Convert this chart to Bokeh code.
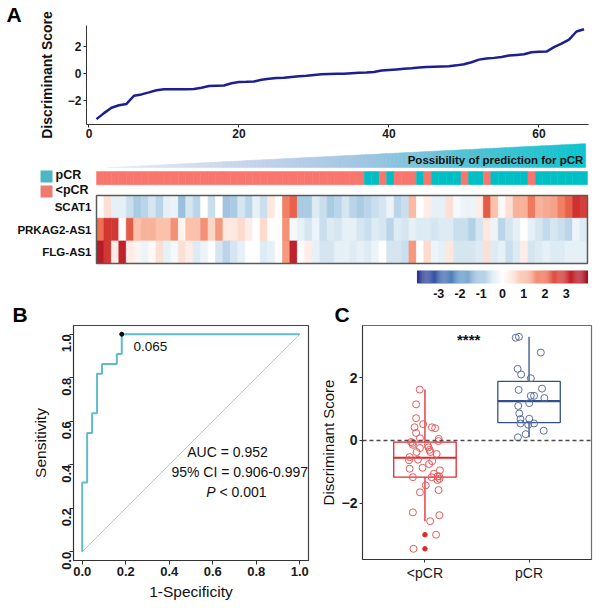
import numpy as np
from bokeh.plotting import figure
from bokeh.layouts import column, row
from bokeh.models import (Range1d, ColumnDataSource, LinearColorMapper, FixedTicker,
                          PrintfTickFormatter, Span)
from bokeh.core.properties import value
from bokeh.transform import transform
from bokeh.embed import file_html
from bokeh.resources import INLINE

FONT = "Liberation Sans"

# ---------------- data ----------------
# Panel A: sorted discriminant score per patient
sample_idx = list(range(1, 67))
disc_score = [-3.40, -2.95, -2.55, -2.36, -2.26, -1.65, -1.55, -1.40, -1.24, -1.17,
              -1.17, -1.17, -1.17, -1.15, -1.05, -0.92, -0.90, -0.88, -0.72, -0.63,
              -0.61, -0.58, -0.45, -0.38, -0.33, -0.30, -0.25, -0.20, -0.16, -0.10,
              -0.05, -0.03, -0.01, 0.00, 0.03, 0.06, 0.09, 0.13, 0.24, 0.28,
              0.32, 0.36, 0.40, 0.46, 0.50, 0.52, 0.54, 0.56, 0.62, 0.70,
              0.85, 1.05, 1.13, 1.18, 1.24, 1.35, 1.40, 1.45, 1.60, 1.63,
              1.65, 1.98, 2.25, 2.55, 3.15, 3.32]

# response group per patient (runs along the sorted order)
group_runs = [("<pCR", 36), ("pCR", 2), ("<pCR", 1), ("pCR", 1), ("<pCR", 3), ("pCR", 1),
              ("<pCR", 1), ("pCR", 4), ("<pCR", 1), ("pCR", 2), ("<pCR", 1), ("pCR", 5),
              ("<pCR", 1), ("pCR", 7)]

genes = ["SCAT1", "PRKAG2-AS1", "FLG-AS1"]
expr_scat1 = [0.0, 0.5, -0.3, -0.3, -0.6, -1.0, -0.8, -0.5, -0.8, -0.3,
              -0.2, -1.2, -0.5, -0.8, 0.0, -0.6, 0.0, -1.1, -1.0, -0.5,
              -0.8, -0.3, -0.6, 0.4, 0.0, 1.8, 2.2, -1.0, -1.0, -0.4,
              -0.6, -1.0, -0.8, -0.5, -0.8, -1.0, -0.8, -0.6, -0.5, -0.2,
              -0.8, -0.6, 1.1, 0.0, 0.3, -0.3, -0.3, 0.5, -0.1, -0.2,
              -0.2, 0.3, 2.3, 1.0, 0.1, 0.5, 1.2, 1.2, 1.9, 1.2,
              1.3, 1.4, 1.8, 2.2, 2.9, 2.7]
expr_prkag2 = [2.0, 2.8, 2.8, 0.0, 2.3, 1.0, 1.2, 1.2, 1.0, 1.0,
               1.6, 0.2, 1.0, 1.0, 1.6, 0.7, 1.5, 0.4, 0.4, 0.6,
               0.3, 0.0, 0.6, 0.0, 0.0, 1.6, -0.1, -0.3, -0.5, -0.2,
               -0.6, -0.4, -0.5, -0.3, -0.3, -0.5, -0.6, -0.4, -0.5, -0.8,
               -0.4, -0.5, -0.3, -0.4, -0.4, -0.5, -0.4, -0.4, -0.6, -0.6,
               -0.9, -0.5, 0.4, -0.2, -0.8, -0.5, -0.3, 0.0, -0.3, -0.5,
               -0.7, -0.5, -0.6, -0.8, -0.2, -0.4]
expr_flg = [3.5, 2.8, 0.3, 3.3, 0.3, 0.2, -0.2, 0.1, 0.5, -0.3,
            -0.1, 0.5, 0.3, -0.4, -0.2, 0.0, -0.5, -0.8, -0.5, -0.3,
            0.0, 0.0, -0.4, -0.3, 0.0, 1.5, 3.3, 0.0, 0.3, -0.3,
            -0.5, -0.5, -0.3, -0.3, -0.4, -0.3, -0.4, -0.2, 0.0, -0.5,
            -0.5, -0.6, 1.5, 0.0, 0.6, -0.2, -0.3, 0.4, -0.5, -0.5,
            -0.5, -0.4, 0.5, -0.4, -0.3, -0.6, -0.4, 0.3, -0.5, -0.4,
            -0.3, -0.4, -0.4, -0.3, -0.3, -0.3]
colorbar_ticks = [-3, -2, -1, 0, 1, 2, 3]

# Panel B: ROC curve
roc_fpr = [0.0, 0.0, 0.0227, 0.0227, 0.0455, 0.0455, 0.0682, 0.0682, 0.0909, 0.0909,
           0.1591, 0.1591, 0.1818, 0.1818, 1.0]
roc_tpr = [0.0, 0.3182, 0.3182, 0.5455, 0.5455, 0.6364, 0.6364, 0.8182, 0.8182, 0.8636,
           0.8636, 0.9091, 0.9091, 1.0, 1.0]
cut_point = (0.1818, 1.0)
cut_label = "0.065"
roc_ticks = [0.0, 0.2, 0.4, 0.6, 0.8, 1.0]

# Panel C: discriminant score by group
group_names = ["<pCR", "pCR"]
lt_pcr_scores = [1.62, 1.15, 0.71, 0.52, 0.42, 0.42, 0.39, 0.24, 0.07, 0.05,
                 -0.02, -0.05, -0.08, -0.14, -0.16, -0.22, -0.24, -0.30, -0.37, -0.37,
                 -0.43, -0.53, -0.61, -0.63, -0.66, -0.75, -0.87, -0.90, -0.95, -1.06,
                 -1.14, -1.15, -1.17, -1.17, -1.22, -1.26, -1.43, -1.58, -1.65, -2.29,
                 -2.38, -2.57, -3.00, -3.45]
lt_pcr_jitter = [-0.05, -0.085, -0.085, -0.017, -0.10, 0.067, 0.098, -0.085, -0.048, 0.132,
                 0.13, -0.134, -0.12, -0.116, 0.027, 0.034, -0.048, 0.045, 0.052, -0.08,
                 0.112, -0.147, -0.067, -0.153, 0.07, 0.04, -0.023, -0.147, 0.144, 0.085,
                 0.137, 0.12, -0.116, 0.064, 0.14, 0.12, 0.008, 0.131, -0.048, -0.116,
                 0.138, 0.05, 0.107, -0.11]
pcr_scores = [3.27, 3.30, 2.80, 2.28, 2.10, 1.98, 1.61, 1.65, 1.42, 1.42, 1.35,
              1.19, 1.10, 0.86, 0.68, 0.69, 0.54, 0.50, 0.54, 0.31, 0.20, 0.10]
pcr_jitter = [-0.128, -0.097, 0.113, -0.110, -0.076, 0.017, -0.100, 0.125, 0.017, 0.048, 0.147,
              0.002, -0.104, -0.094, -0.082, 0.002, -0.082, -0.008, 0.048, 0.141, -0.032, -0.107]
box_q1 = [-1.17, 0.57]
box_med = [-0.55, 1.25]
box_q3 = [-0.05, 1.88]
whisk_lo = [-2.57, 0.10]
whisk_hi = [1.62, 3.30]
signif = "****"

# ---------------- helpers ----------------
def hex2rgb(c):
    return [int(c[i:i + 2], 16) for i in (1, 3, 5)]


def interp(stops, t):
    for (p0, c0), (p1, c1) in zip(stops[:-1], stops[1:]):
        if t <= p1:
            f = 0 if p1 == p0 else (t - p0) / (p1 - p0)
            a, b = hex2rgb(c0), hex2rgb(c1)
            return "#%02x%02x%02x" % tuple(int(round(a[k] + (b[k] - a[k]) * f)) for k in range(3))
    return stops[-1][1]


heat_stops = [(0.0, "#2a3590"), (0.125, "#3d60aa"), (0.25, "#6197c8"), (0.375, "#a9cbe3"),
              (0.5, "#ffffff"), (0.625, "#fbc3ad"), (0.75, "#ef7052"), (0.875, "#cc2a2d"),
              (1.0, "#a50f26")]
heat_palette = [interp(heat_stops, i / 255) for i in range(256)]
mapper = LinearColorMapper(palette=heat_palette, low=-4, high=4)

GROUP_COL = {"pCR": "#00BFC4", "<pCR": "#F8766D"}
LEG_COL = {"pCR": "#4DB6C3", "<pCR": "#EE7B72"}


def style_axis(ax, size="12px", bold=True, lab_size="14px", lab_bold=False, tick_out=3):
    ax.major_label_text_font = FONT
    ax.major_label_text_font_size = size
    ax.major_label_text_font_style = "bold" if bold else "normal"
    ax.major_label_text_color = "#1a1a1a"
    ax.axis_label_text_font = FONT
    ax.axis_label_text_font_size = lab_size
    ax.axis_label_text_font_style = "bold" if lab_bold else "normal"
    ax.axis_label_text_color = "#111111"
    ax.axis_line_color = "#333333"
    ax.major_tick_line_color = "#333333"
    ax.minor_tick_line_color = None
    ax.major_tick_out = tick_out
    ax.major_tick_in = 0


def panel_letter(p, letter, offset):
    p.title.text = letter
    p.title.align = "left"
    p.title.offset = offset
    p.title.standoff = 0
    p.title.text_font = FONT
    p.title.text_font_size = "21px"
    p.title.text_font_style = "bold"
    p.title.text_color = "#000000"


# ---------------- Panel A: score line ----------------
pa = figure(width=600, height=142, output_backend="svg", toolbar_location=None,
            x_range=Range1d(-0.33, 66.6), y_range=Range1d(-3.8, 3.6),
            min_border_left=86, min_border_right=12, min_border_top=22, min_border_bottom=18)
pa.frame_align = False
pa.outline_line_color = None
pa.grid.visible = False
pa.line(sample_idx, disc_score, color="#1c1f93", line_width=2.5)
pa.xaxis.ticker = FixedTicker(ticks=[0, 20, 40, 60])
pa.yaxis.ticker = FixedTicker(ticks=[-2, 0, 2])
style_axis(pa.xaxis[0])
style_axis(pa.yaxis[0], lab_bold=True)
pa.xaxis.major_label_standoff = 1
pa.yaxis.major_label_standoff = 2
pa.yaxis.axis_label = "Discriminant Score"
pa.yaxis.axis_label_standoff = 10
panel_letter(pa, "A", -80)

# ---------------- Panel A: heatmap ----------------
ph = figure(width=600, height=158, output_backend="svg", toolbar_location=None,
            x_range=Range1d(-12.905, 67.75), y_range=Range1d(-1.63, 5.34),
            x_axis_location=None, y_axis_location=None, min_border=0)
ph.frame_align = False
ph.outline_line_color = None
ph.grid.visible = False

n = len(sample_idx)
groups = [g for g, k in group_runs for _ in range(k)]
rows = {"SCAT1": (2.5, expr_scat1), "PRKAG2-AS1": (1.5, expr_prkag2), "FLG-AS1": (0.5, expr_flg)}
hx, hy, hv = [], [], []
for gname in genes:
    yy, vals = rows[gname]
    for i, v in enumerate(vals):
        hx.append(sample_idx[i] - 0.5)
        hy.append(yy)
        hv.append(v)
hsrc = ColumnDataSource(dict(x=hx, y=hy, v=hv))
ph.rect(x="x", y="y", width=1, height=1, source=hsrc,
        fill_color=transform("v", mapper), line_color=transform("v", mapper), line_width=0.6)
ph.rect(x=n / 2, y=1.5, width=n, height=3, fill_color=None, line_color="#5a5a5a", line_width=1.5)
for gname in genes:
    ph.text(x=[-0.67], y=[rows[gname][0]], text=[gname], text_font=value(FONT),
            text_font_size="11.5px", text_font_style="bold", text_align="right",
            text_baseline="middle", text_color="#111111")

# group bar
gsrc = ColumnDataSource(dict(x=[s - 0.5 for s in sample_idx],
                             c=[GROUP_COL[g] for g in groups]))
ph.rect(x="x", y=3.77, width=1, height=0.58, source=gsrc, fill_color="c", line_color="c",
        line_width=0.5)
# group legend
for lbl, yy in (("pCR", 3.84), ("<pCR", 3.18)):
    ph.rect(x=[-6.72], y=[yy], width=1.61, height=0.53, fill_color=LEG_COL[lbl], line_color=None)
    ph.text(x=[-5.5], y=[yy + 0.05], text=[lbl], text_font=value(FONT), text_font_size="12.5px",
            text_font_style="bold", text_baseline="middle", text_align="left", text_color="#111111")

# probability wedge
wedge_stops = [(0.0, "#e4ebf6"), (0.3, "#c5d5eb"), (0.55, "#9cc4e2"), (0.75, "#55c3d5"),
               (1.0, "#0cc3cc")]
xl, xr, yb, yt = 1.48, 65.73, 4.235, 5.29
N = 120
wx, wy, wc = [], [], []
for i in range(N):
    x0 = xl + (xr - xl) * i / N
    x1 = xl + (xr - xl) * (i + 1) / N
    t0 = yb + (yt - yb) * (x0 - xl) / (xr - xl)
    t1 = yb + (yt - yb) * (x1 - xl) / (xr - xl)
    wx.append([x0, x1 + 0.02, x1 + 0.02, x0])
    wy.append([yb, yb, t1, t0])
    wc.append(interp(wedge_stops, (i + 0.5) / N))
ph.patches(wx, wy, fill_color=wc, line_color=wc, line_width=0.5)
ph.text(x=[65.45], y=[4.55], text=["Possibility of prediction for pCR"], text_font=value(FONT),
        text_font_size="11.5px", text_font_style="bold", text_align="right",
        text_baseline="middle", text_color="#111111")

# colour bar
cb_l, cb_r, cb_b, cb_t = 43.15, 66.0, -0.88, -0.31
cb_vals = np.linspace(-4, 4, 161)
cb_w = (cb_r - cb_l) / (len(cb_vals) - 1)
cb_x = [cb_l + (v + 4) / 8 * (cb_r - cb_l) for v in cb_vals]
cbsrc = ColumnDataSource(dict(x=cb_x, v=list(cb_vals)))
ph.rect(x="x", y=(cb_b + cb_t) / 2, width=cb_w * 1.05, height=cb_t - cb_b, source=cbsrc,
        fill_color=transform("v", mapper), line_color=None)
ph.text(x=[cb_l + (v + 4) / 8 * (cb_r - cb_l) for v in colorbar_ticks], y=[-1.32] * len(colorbar_ticks),
        text=[str(v) for v in colorbar_ticks], text_font=value(FONT), text_font_size="12.5px",
        text_font_style="bold", text_align="center", text_baseline="middle", text_color="#111111")

# ---------------- Panel B: ROC ----------------
pb = figure(width=316, height=308, output_backend="svg", toolbar_location=None,
            x_range=Range1d(-0.04, 1.04), y_range=Range1d(-0.04, 1.04),
            min_border_left=73, min_border_right=8, min_border_top=24, min_border_bottom=48)
pb.frame_align = False
pb.grid.visible = False
pb.outline_line_color = "#444444"
pb.outline_line_width = 1.2
pb.line([0, 1], [0, 1], color="#c4c4c4", line_width=1)
pb.line(roc_fpr, roc_tpr, color="#5fbdca", line_width=2)
pb.scatter([cut_point[0]], [cut_point[1]], size=4, color="black")
pb.xaxis.ticker = FixedTicker(ticks=roc_ticks)
pb.yaxis.ticker = FixedTicker(ticks=roc_ticks)
pb.xaxis.formatter = PrintfTickFormatter(format="%.1f")
pb.yaxis.formatter = PrintfTickFormatter(format="%.1f")
style_axis(pb.xaxis[0], size="13px", lab_size="15.5px", tick_out=4)
style_axis(pb.yaxis[0], size="13px", lab_size="15.5px", tick_out=4)
pb.yaxis.major_label_orientation = np.pi / 2
pb.xaxis.major_label_standoff = 2
pb.yaxis.major_label_standoff = 3
pb.xaxis.axis_label = "1-Specificity"
pb.yaxis.axis_label = "Sensitivity"
pb.xaxis.axis_label_standoff = 4
pb.yaxis.axis_label_standoff = 6
pb.text(x=[0.236], y=[0.944], text=[cut_label], text_font=value(FONT), text_font_size="13.5px",
        text_align="left", text_baseline="middle", text_color="#111111")
pb.text(x=[0.668], y=[0.459], text=["AUC = 0.952"], text_font=value(FONT), text_font_size="14px",
        text_align="center", text_baseline="middle", text_color="#111111")
pb.text(x=[0.724], y=[0.366], text=["95% CI = 0.906-0.997"], text_font=value(FONT),
        text_font_size="14px", text_align="center", text_baseline="middle", text_color="#111111")
pb.text(x=[0.613], y=[0.273], text=["P"], text_font=value(FONT), text_font_size="14px",
        text_font_style="italic", text_align="right", text_baseline="middle", text_color="#111111")
pb.text(x=[0.631], y=[0.273], text=["< 0.001"], text_font=value(FONT), text_font_size="14px",
        text_align="left", text_baseline="middle", text_color="#111111")
panel_letter(pb, "B", -61)

# ---------------- Panel C: boxplot ----------------
pc = figure(width=284, height=308, output_backend="svg", toolbar_location=None,
            x_range=Range1d(0.4, 2.6), y_range=Range1d(-3.79, 3.66),
            min_border_left=37, min_border_right=9, min_border_top=23, min_border_bottom=49)
pc.frame_align = False
pc.grid.visible = False
pc.outline_line_color = "#6e6e6e"
pc.outline_line_width = 1.2
pc.add_layout(Span(location=0, dimension="width", line_dash="4 3", line_color="#4a4a4a",
                   line_width=1.5))
box_cols = ["#E0282C", "#34508C"]
pt_cols = ["#E65A5C", "#5A6FA0"]
scores = [lt_pcr_scores, pcr_scores]
jit = [lt_pcr_jitter, pcr_jitter]
for k in range(2):
    pos = k + 1
    c = box_cols[k]
    pc.segment(x0=[pos, pos], y0=[box_q3[k], box_q1[k]], x1=[pos, pos], y1=[whisk_hi[k], whisk_lo[k]],
               line_color=c, line_width=1.3)
    pc.quad(left=[pos - 0.3], right=[pos + 0.3], bottom=[box_q1[k]], top=[box_q3[k]],
            fill_color=None, line_color=c, line_width=1.3)
    pc.segment(x0=[pos - 0.3], y0=[box_med[k]], x1=[pos + 0.3], y1=[box_med[k]],
               line_color=c, line_width=2.2)
    outs = [v for v in scores[k] if v < whisk_lo[k] or v > whisk_hi[k]]
    if outs:
        pc.scatter([pos] * len(outs), outs, size=4.5, color=c)
    pc.scatter([pos + j for j in jit[k]], scores[k], size=7, marker="circle",
               fill_color=None, line_color=pt_cols[k], line_width=1)
pc.text(x=[1.42], y=[3.2], text=[signif], text_font=value(FONT), text_font_size="15px",
        text_font_style="bold", text_align="center", text_baseline="middle", text_color="#111111")
pc.xaxis.ticker = FixedTicker(ticks=[1, 2])
pc.xaxis.major_label_overrides = {1: group_names[0], 2: group_names[1]}
pc.yaxis.ticker = FixedTicker(ticks=[-2, 0, 2])
style_axis(pc.xaxis[0], size="14px", bold=False)
style_axis(pc.yaxis[0], size="14px", bold=True, lab_size="15px")
pc.xaxis.major_label_standoff = 2
pc.yaxis.major_label_standoff = 2
pc.yaxis.axis_label = "Discriminant Score"
pc.yaxis.axis_label_standoff = 2
panel_letter(pc, "C", -28)

layout = column(pa, ph, row(pb, pc))
open("out.html", "w").write(file_html(layout, INLINE))
